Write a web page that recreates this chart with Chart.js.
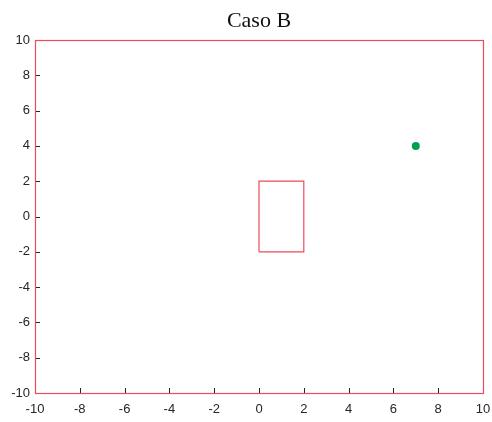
<!DOCTYPE html>
<html>
<head>
<meta charset="utf-8">
<script src="https://cdn.jsdelivr.net/npm/chart.js@4/dist/chart.umd.min.js"></script>
<style>
  html, body { margin: 0; padding: 0; background: #ffffff; }
  #wrap { width: 492px; height: 422px; }
</style>
</head>
<body>
<div id="wrap"><canvas id="c" width="492" height="422"></canvas></div>
<script>
// Obstacle outline (closed rectangle) and target point
const rectX = [0, 0, 2, 2, 0];
const rectY = [-2, 2, 2, -2, -2];
const goalX = [7];
const goalY = [4];
// Axis ticks
const xTicks = [-10, -8, -6, -4, -2, 0, 2, 4, 6, 8, 10];
const yTicks = [-10, -8, -6, -4, -2, 0, 2, 4, 6, 8, 10];

const titleText = 'Caso B';
const frameColor = '#ee4a5a';
const tickColor = '#262626';

const toPoints = (xs, ys) => xs.map((x, i) => ({ x: x, y: ys[i] }));

// Red frame round the plot, inward tick marks, and the title over the plot area
const framePlugin = {
  id: 'frame',
  afterDatasetsDraw(chart) {
    const { ctx, chartArea: a, scales } = chart;
    ctx.save();
    ctx.strokeStyle = tickColor;
    ctx.lineWidth = 1;
    ctx.beginPath();
    xTicks.forEach(v => {
      const px = Math.round(scales.x.getPixelForValue(v)) + 0.5;
      ctx.moveTo(px, a.bottom);
      ctx.lineTo(px, a.bottom - 5);
    });
    yTicks.forEach(v => {
      const py = Math.round(scales.y.getPixelForValue(v)) + 0.5;
      ctx.moveTo(a.left, py);
      ctx.lineTo(a.left + 5, py);
    });
    ctx.stroke();
    ctx.strokeStyle = frameColor;
    ctx.lineWidth = 1.2;
    ctx.strokeRect(Math.round(a.left) + 0.5, Math.round(a.top) + 0.5,
                   Math.round(a.right - a.left), Math.round(a.bottom - a.top));
    ctx.fillStyle = '#111111';
    ctx.font = '22px "Liberation Serif", "DejaVu Serif", serif';
    ctx.textAlign = 'center';
    ctx.textBaseline = 'middle';
    ctx.fillText(titleText, (a.left + a.right) / 2, 21);
    ctx.restore();
  }
};

const hiddenGrid = { display: true, drawOnChartArea: false, drawTicks: false, color: 'rgba(0,0,0,0)' };

new Chart(document.getElementById('c'), {
  type: 'scatter',
  data: {
    datasets: [
      {
        data: toPoints(rectX, rectY),
        showLine: true,
        borderColor: frameColor,
        borderWidth: 1.2,
        pointRadius: 0,
        fill: false,
        tension: 0
      },
      {
        data: toPoints(goalX, goalY),
        backgroundColor: '#00a14b',
        borderColor: '#00a14b',
        pointRadius: 4,
        borderWidth: 0
      }
    ]
  },
  options: {
    responsive: false,
    animation: false,
    events: [],
    layout: { padding: { top: 40, right: 9, left: 0, bottom: 0 } },
    plugins: {
      legend: { display: false },
      title: { display: false },
      tooltip: { enabled: false }
    },
    scales: {
      x: {
        type: 'linear',
        min: -10, max: 10,
        afterFit(s) { s.height = 29; s.paddingLeft = 0; s.paddingRight = 0; },
        afterBuildTicks(s) { s.ticks = xTicks.map(v => ({ value: v })); },
        border: { display: false },
        grid: hiddenGrid,
        ticks: {
          color: tickColor,
          padding: 9,
          font: { family: '"Liberation Sans", Arial, sans-serif', size: 13 },
          maxRotation: 0,
          autoSkip: false
        }
      },
      y: {
        type: 'linear',
        min: -10, max: 10,
        afterFit(s) { s.width = 35; s.paddingTop = 0; s.paddingBottom = 0; },
        afterBuildTicks(s) { s.ticks = yTicks.map(v => ({ value: v })); },
        border: { display: false },
        grid: hiddenGrid,
        ticks: {
          color: tickColor,
          padding: 5,
          font: { family: '"Liberation Sans", Arial, sans-serif', size: 13 },
          autoSkip: false
        }
      }
    }
  },
  plugins: [framePlugin]
});
</script>
</body>
</html>
